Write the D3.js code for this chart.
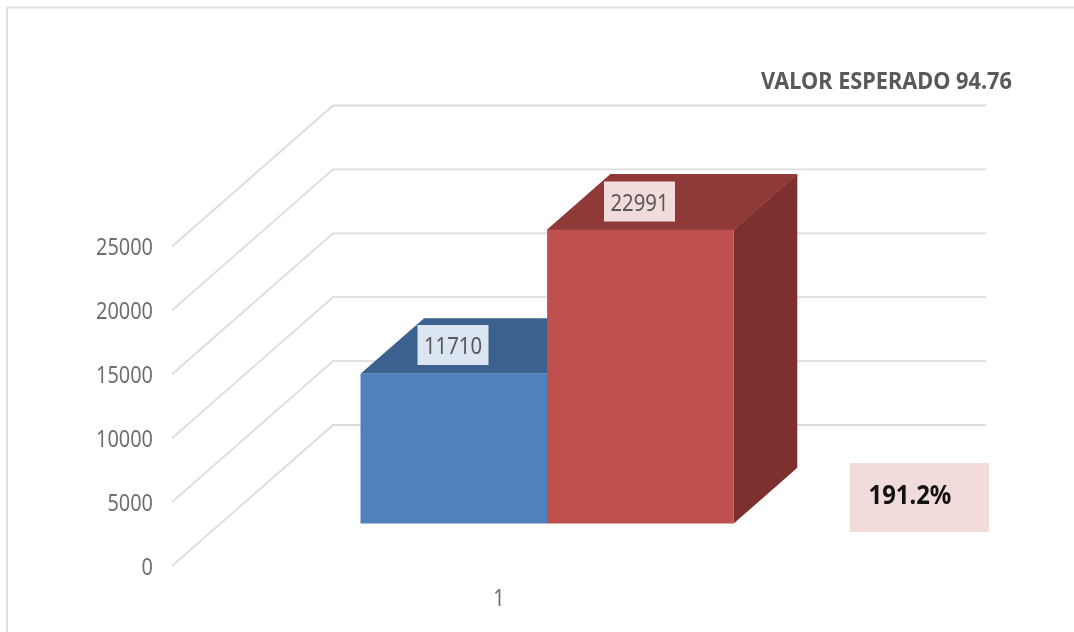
<!DOCTYPE html>
<html><head><meta charset="utf-8">
<script src="https://cdn.jsdelivr.net/npm/d3@7"></script>
<style>html,body{margin:0;padding:0;background:#fff;}svg{display:block;filter:blur(0.45px);}text{font-family:"Noto Sans",sans-serif;}</style>
</head><body><svg id="c" width="1074" height="632"></svg>
<script>
const categories = ["1"];
const seriesValues = [11710, 22991];
const seriesFront = ["#4f81bd", "#c0504d"];
const seriesTop = ["#3c618e", "#8f3a38"];
const seriesSide = ["#2f4d71", "#7d302e"];
const labelFill = ["#dce6f2", "#f2dcdb"];
const tickValues = [0, 5000, 10000, 15000, 20000, 25000];
const titleText = "VALOR ESPERADO 94.76";
const noteText = "191.2%";

const svg = d3.select("#c");
const W = 1074, H = 632;
// back wall value scale
const y = d3.scaleLinear().domain([0, 25000]).range([425, 105.5]);
// depth projection: 0 = front of floor, 1 = back wall
const depthX = d3.scaleLinear().domain([0, 1]).range([-161, 0]);
const depthY = d3.scaleLinear().domain([0, 1]).range([141, 0]);
const x = d3.scaleBand().domain(seriesValues.map((d, i) => i)).range([360.5, 733.7]).padding(0);
const barFront = 0.6, barBack = 0.995; // depth fractions in the floor

const narrow = (sel, perChar) => sel.attr("lengthAdjust", "spacingAndGlyphs").attr("textLength", function () { return this.textContent.length * perChar; });

// chart frame
svg.append("path").attr("d", `M7 ${H}V7.5H${W}`).attr("fill", "none").attr("stroke", "#dfdfdf").attr("stroke-width", 2);

const grid = svg.append("g").attr("fill", "none").attr("stroke", "#dcdcdc").attr("stroke-width", 1.8);
tickValues.forEach(t => {
  const yb = y(t);
  grid.append("path").attr("d", d3.line()([[333 + depthX(0), yb + depthY(0)], [333, yb], [986, yb]]));
});

const ax = svg.append("g").attr("font-size", 23).attr("fill", "#6f6f6f").attr("text-anchor", "end");
tickValues.forEach(t => {
  ax.append("text").attr("x", 153).attr("y", y(t) + depthY(0) + 8.7).text(t).call(narrow, 11.4);
});

const P = (px, py, d) => [px + (depthX(d) - depthX(barFront)), py + (depthY(d) - depthY(barFront))];
const y0Front = 523.5;
const k = (y(0) - y(1)); // px per unit
seriesValues.forEach((v, i) => {
  const xl = x(i), xr = xl + x.bandwidth(), yt = y0Front - k * v;
  const poly = pts => svg.append("polygon").attr("points", pts.map(p => p.join(",")).join(" "));
  poly([[xl, yt], P(xl, yt, barBack), P(xr, yt, barBack), [xr, yt]]).attr("fill", seriesTop[i]);
  poly([[xr, yt], P(xr, yt, barBack), P(xr, y0Front, barBack), [xr, y0Front]]).attr("fill", seriesSide[i]);
});
// drawn after so the red bar covers the blue top/side
seriesValues.forEach((v, i) => {
  const xl = x(i), yt = y0Front - k * v;
  svg.append("rect").attr("x", xl).attr("y", yt).attr("width", x.bandwidth()).attr("height", y0Front - yt).attr("fill", seriesFront[i]);
});
const redI = 1;
(() => {
  const v = seriesValues[redI], xl = x(redI), xr = xl + x.bandwidth(), yt = y0Front - k * v;
  svg.append("polygon").attr("points", [[xl, yt], P(xl, yt, barBack), P(xr, yt, barBack), [xr, yt]].map(p => p.join(",")).join(" ")).attr("fill", seriesTop[redI]);
})();

// data labels
const labelCx = [453, 639.5], labelCy = [345, 201.5];
seriesValues.forEach((v, i) => {
  svg.append("rect").attr("x", labelCx[i] - 35.5).attr("y", labelCy[i] - 20).attr("width", 71).attr("height", 40).attr("fill", labelFill[i]);
  svg.append("text").attr("x", labelCx[i]).attr("y", labelCy[i] + 9.3).attr("text-anchor", "middle").attr("font-size", 23).attr("fill", "#595959").text(v).call(narrow, 11.6);
});

svg.append("text").attr("x", 499).attr("y", 606).attr("text-anchor", "middle").attr("font-size", 23).attr("fill", "#6f6f6f").text(categories[0]).call(narrow, 11.4);
svg.append("text").attr("x", 761).attr("y", 88.5).attr("font-size", 24).attr("font-weight", 700).attr("fill", "#595959").text(titleText).call(narrow, 12.55);
svg.append("rect").attr("x", 850).attr("y", 463).attr("width", 139).attr("height", 69).attr("fill", "#f2dcdb");
svg.append("text").attr("x", 868.5).attr("y", 503.5).attr("font-size", 27).attr("font-weight", 700).attr("fill", "#111").text(noteText).call(narrow, 13.8);
</script></body></html>
